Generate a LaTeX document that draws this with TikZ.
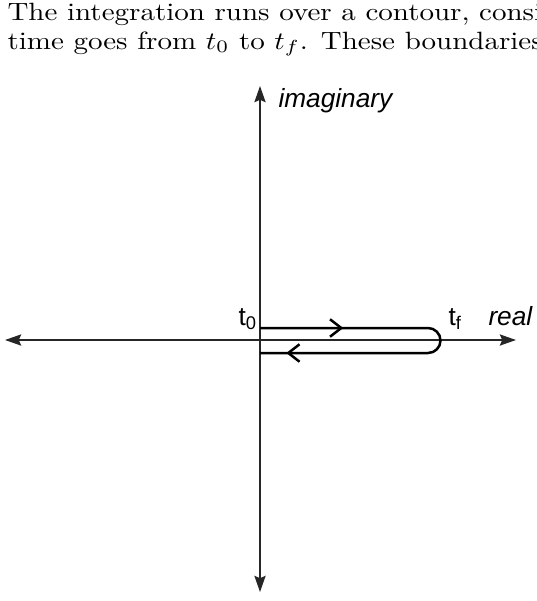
\documentclass[tikz,border=0pt]{standalone}
\usepackage{fontspec}
\usepackage{graphicx}
\usetikzlibrary{arrows.meta, decorations.markings}
\newfontfamily\labelfont{Liberation Sans}

\begin{document}
\begin{tikzpicture}[
    x=0.4pt, y=-0.4pt,
    axis/.style={draw=black!85, line width=0.6pt, {Stealth[length=6.5pt,width=4.5pt,inset=1pt]}-{Stealth[length=6.5pt,width=4.5pt,inset=1pt]}},
    contour/.style={draw=black, line width=1pt,
        decoration={markings,
            mark=at position 0.222 with {\arrow{Straight Barb[length=4.5pt,width=7pt,line width=1pt]}},
            mark=at position 0.93 with {\arrow{Straight Barb[length=4.5pt,width=7pt,line width=1pt]}}},
        postaction={decorate}},
    lbl/.style={font=\labelfont\fontsize{10.5}{12}\selectfont, inner sep=0pt, anchor=base west},
    textline/.style={font=\fontsize{10}{12}\selectfont, inner sep=0pt, anchor=base west}
]
    \useasboundingbox (0,0) rectangle (537,601);

    % running text above the figure
    \node[textline] (line1) at (7,20) {\scalebox{1.16}[1]{The integration runs over a contour, consi}};
    \node[textline] (line2) at (7,49) {\scalebox{1.16}[1]{time goes from $t_0$ to $t_f$. These boundaries}};

    % axes
    \coordinate (west) at (5,340);
    \coordinate (east) at (516,340);
    \coordinate (north) at (260,86);
    \coordinate (south) at (260,592);
    \draw[axis] (west) -- (east);
    \draw[axis] (south) -- (north);

    % contour
    \coordinate (start) at (260,328);
    \coordinate (turn) at (428,328);
    \coordinate (back) at (260,353);
    \draw[contour] (start) -- (turn) arc[start angle=-90, end angle=90, radius=12.5] -- (back);

    % labels
    \node[lbl] (tzero) at (238,325) {t\textsubscript{0}};
    \node[lbl] (tfin) at (448,325) {t\textsubscript{f}};
    \node[lbl] (real) at (488,325) {\itshape real};
    \node[lbl] (imag) at (278,107) {\itshape imaginary};
\end{tikzpicture}
\end{document}
